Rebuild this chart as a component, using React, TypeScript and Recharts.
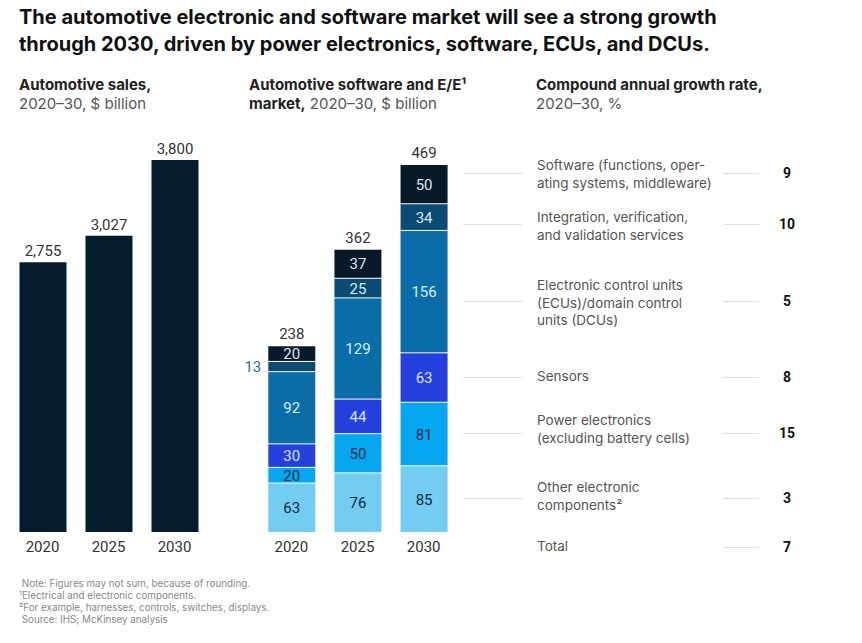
import { BarChart, Bar, XAxis, YAxis, LabelList } from "recharts";

const YEARS = ["2020", "2025", "2030"];
const SALES = [2755, 3027, 3800];

// stacked segments, bottom to top
const OTHER = [63, 76, 85];
const POWER = [20, 50, 81];
const SENSORS = [30, 44, 63];
const ECUS = [92, 129, 156];
const INTEGRATION = [13, 25, 34];
const SOFTWARE = [20, 37, 50];
const TOTALS = [238, 362, 469];

const SEGMENT_NAMES = [
  "Software (functions, oper-\nating systems, middleware)",
  "Integration, verification,\nand validation services",
  "Electronic control units\n(ECUs)/domain control\nunits (DCUs)",
  "Sensors",
  "Power electronics\n(excluding battery cells)",
  "Other electronic\ncomponents²",
  "Total",
];
const CAGR = [9, 10, 5, 8, 15, 3, 7];

const FONT = "Roboto, 'Liberation Sans', Arial, sans-serif";
const TEXT_FONT = "Inter, Roboto, 'Liberation Sans', sans-serif";
const NAVY = "#051c2c";

const SERIES = [
  { key: "other", values: OTHER, color: "#72cdf0", text: "#0b2a3f" },
  { key: "power", values: POWER, color: "#05a8f0", text: "#0b2a3f" },
  { key: "sensors", values: SENSORS, color: "#2340df", text: "#dfe3fb" },
  { key: "ecus", values: ECUS, color: "#0a6da8", text: "#d6ecf8" },
  { key: "integration", values: INTEGRATION, color: "#0b4a72", text: "#d6ecf8" },
  { key: "software", values: SOFTWARE, color: "#08192a", text: "#dde5ec" },
];

const salesData = YEARS.map((year, i) => ({ year, sales: SALES[i] }));
const marketData = YEARS.map((year, i) => {
  const row: Record<string, string | number> = { year };
  SERIES.forEach((s) => (row[s.key] = s.values[i]));
  return row;
});

// layout of the right-hand legend rows (label top, connector y)
const ROW_TOPS = [157, 209, 277, 368, 412, 479, 538];
const ROW_LINES = [173, 224, 301, 377, 433, 498, 547];

const segShape = (props: any) => {
  const { x, y, width, height, fill } = props;
  if (!height || height <= 0) return <g />;
  return <rect x={x} y={y + 1} width={width} height={Math.max(height - 1, 0)} fill={fill} />;
};

const segLabel = (values: number[], color: string) => (props: any) => {
  const vb = props.viewBox ?? props;
  const { x, y, width, height } = vb;
  const v = values[props.index];
  if (v < 15) {
    return (
      <text x={x - 7} y={y + height / 2 + 1} textAnchor="end" dominantBaseline="central" fontSize={15} fill="#2f6f9c">
        {v}
      </text>
    );
  }
  return (
    <text x={x + width / 2} y={y + height / 2 + 1} textAnchor="middle" dominantBaseline="central" fontSize={15} fill={color}>
      {v}
    </text>
  );
};

const totalLabel = (props: any) => {
  const vb = props.viewBox ?? props;
  const { x, y, width } = vb;
  return (
    <text x={x + width / 2} y={y - 6} textAnchor="middle" fontSize={15} fill="#333">
      {TOTALS[props.index]}
    </text>
  );
};

const abs = (left: number, top: number): React.CSSProperties => ({ position: "absolute", left, top });

export default function App() {
  return (
    <div style={{ position: "absolute", left: 0, top: 0, width: 862, height: 643, background: "#fff", fontFamily: FONT, overflow: "hidden" }}>
      {/* Title */}
      <div style={{ ...abs(19, 4), fontFamily: TEXT_FONT, fontSize: 20, fontWeight: 700, lineHeight: "27px", color: "#111", width: 840 }}>
        The automotive electronic and software market will see a strong growth
        <br />
        through 2030, driven by power electronics, software, ECUs, and DCUs.
      </div>

      {/* Panel headers */}
      <div style={{ ...abs(19, 76), fontFamily: TEXT_FONT, fontSize: 15, lineHeight: "18.5px", color: "#222" }}>
        <b>Automotive sales,</b>
        <br />
        <span style={{ color: "#555" }}>2020–30, $ billion</span>
      </div>
      <div style={{ ...abs(249, 76), fontFamily: TEXT_FONT, fontSize: 15, lineHeight: "18.5px", color: "#222" }}>
        <b>Automotive software and E/E¹</b>
        <br />
        <b>market,</b> <span style={{ color: "#555" }}>2020–30, $ billion</span>
      </div>
      <div style={{ ...abs(536, 76), fontFamily: TEXT_FONT, fontSize: 15, lineHeight: "18.5px", color: "#222" }}>
        <b>Compound annual growth rate,</b>
        <br />
        <span style={{ color: "#555" }}>2020–30, %</span>
      </div>

      {/* Automotive sales */}
      <div style={abs(0, 0)}>
        <BarChart width={220} height={580} data={salesData} margin={{ top: 160, right: 12.5, bottom: 18, left: 9.5 }}>
          <XAxis dataKey="year" axisLine={false} tickLine={false} height={30} tickMargin={3} tick={{ fontSize: 15, fill: "#333" }} />
          <YAxis hide domain={[0, 3800]} />
          <Bar dataKey="sales" fill={NAVY} barSize={47} isAnimationActive={false}>
            <LabelList dataKey="sales" position="top" offset={6} fontSize={15} fill="#333" formatter={(v: any) => Number(v).toLocaleString("en-US")} />
          </Bar>
        </BarChart>
      </div>

      {/* Software and E/E market */}
      <div style={abs(240, 0)}>
        <BarChart width={230} height={580} data={marketData} margin={{ top: 164, right: 13.3, bottom: 18, left: 18.3 }}>
          <XAxis dataKey="year" axisLine={false} tickLine={false} height={30} tickMargin={3} tick={{ fontSize: 15, fill: "#333" }} />
          <YAxis hide domain={[0, 469]} />
          {SERIES.map((s, si) => (
            <Bar key={s.key} dataKey={s.key} stackId="m" fill={s.color} barSize={47} shape={segShape} isAnimationActive={false}>
              <LabelList content={segLabel(s.values, s.text)} />
              {si === SERIES.length - 1 && <LabelList content={totalLabel} />}
            </Bar>
          ))}
        </BarChart>
      </div>

      {/* Segment legend and CAGR */}
      {SEGMENT_NAMES.map((name, i) => (
        <div key={name}>
          {i < SEGMENT_NAMES.length - 1 && (
            <div style={{ ...abs(463, ROW_LINES[i]), width: 60, height: 1, background: "#e2e2e2" }} />
          )}
          <div style={{ ...abs(537, ROW_TOPS[i]), fontFamily: TEXT_FONT, fontSize: 13.5, lineHeight: "17.5px", color: "#555", whiteSpace: "pre" }}>
            {name}
          </div>
          <div style={{ ...abs(723, ROW_LINES[i]), width: 36, height: 1, background: "#e2e2e2" }} />
          <div style={{ ...abs(770, ROW_LINES[i] - 9), width: 34, textAlign: "center", fontSize: 14, fontWeight: 700, lineHeight: "18px", color: "#111" }}>
            {CAGR[i]}
          </div>
        </div>
      ))}

      {/* Footnotes */}
      <div style={{ ...abs(19, 578), fontFamily: TEXT_FONT, fontSize: 9.8, lineHeight: "12px", color: "#888" }}>
        &nbsp;Note: Figures may not sum, because of rounding.
        <br />
        ¹Electrical and electronic components.
        <br />
        ²For example, harnesses, controls, switches, displays.
        <br />
        &nbsp;Source: IHS; McKinsey analysis
      </div>
    </div>
  );
}
